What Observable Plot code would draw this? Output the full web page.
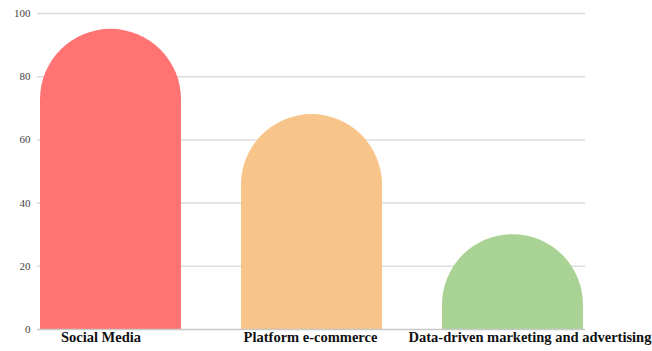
<!DOCTYPE html>
<html>
<head>
<meta charset="utf-8">
<script src="https://cdn.jsdelivr.net/npm/d3@7"></script>
<script src="https://cdn.jsdelivr.net/npm/@observablehq/plot@0.6"></script>
<style>
  html, body { margin: 0; padding: 0; background: #fff; }
  #chart svg { display: block; overflow: visible; }
</style>
</head>
<body>
<div id="chart"></div>
<script>
const categories = ["Social Media", "Platform e-commerce", "Data-driven marketing and advertising"];
const values = [95, 68, 30];
const colors = ["#ff7373", "#f7c589", "#a8d394"];
const yTicks = [0, 20, 40, 60, 80, 100];

const data = categories.map((c, i) => ({category: c, value: values[i], color: colors[i]}));

const labelFont = {fontFamily: "'Liberation Serif', 'DejaVu Serif', serif", fontWeight: "bold", fontSize: 14.5, fill: "#111"};

const chart = Plot.plot({
  width: 652,
  height: 351,
  marginLeft: 37,
  marginRight: 67,
  marginTop: 13,
  marginBottom: 22,
  style: {fontFamily: "'Liberation Serif', serif", background: "#fff", overflow: "visible"},
  x: {domain: categories, paddingInner: 0.3, paddingOuter: 0.01, axis: null},
  y: {domain: [0, 100], axis: null},
  marks: [
    Plot.gridY(yTicks.filter(t => t > 0), {stroke: "#dcdcdc", strokeOpacity: 1, strokeWidth: 1.5}),
    Plot.barY(data, {
      x: "category", y: "value", fill: "color",
      rx: 70.5, ry: 70.5,
      insetBottom: -90, clip: true
    }),
    Plot.ruleY([0], {stroke: "#c8c8c8", strokeWidth: 1.5}),
    Plot.axisY(yTicks, {
      tickSize: 0, tickPadding: 7, fontSize: 11, fill: "#444",
      fontFamily: "'Liberation Serif', serif", label: null
    }),
    Plot.text([categories[0]], {x: d => d, frameAnchor: "bottom", dy: 12.5, dx: -10, ...labelFont}),
    Plot.text([categories[1]], {x: d => d, frameAnchor: "bottom", dy: 12.5, dx: -1.5, ...labelFont}),
    Plot.text([categories[2]], {x: d => d, frameAnchor: "bottom", dy: 12.5, dx: 17, ...labelFont})
  ]
});
document.getElementById("chart").append(chart);
</script>
</body>
</html>
